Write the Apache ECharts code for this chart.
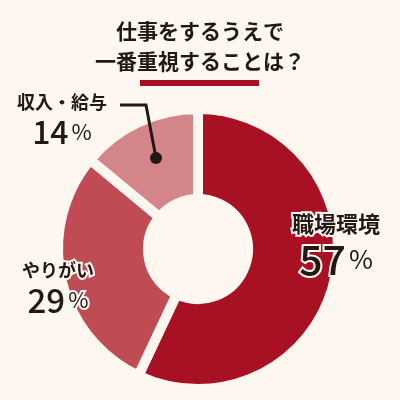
<!DOCTYPE html>
<html>
<head>
<meta charset="utf-8">
<script src="https://cdn.jsdelivr.net/npm/echarts@6/dist/echarts.min.js"></script>
<style>
  html, body { margin: 0; padding: 0; background: #fdf7ef; }
  #main { width: 400px; height: 400px; }
</style>
</head>
<body>
<div id="main"></div>
<script>
// データ
var categories = ['職場環境', 'やりがい', '収入・給与'];
var values = [57, 29, 14];
var colors = ['#a81124', '#c04b55', '#d4858a'];

var bg = '#fdf7ef';
var ink = '#231815';
var font = '"Noto Sans CJK JP", "Noto Sans", sans-serif';

// ラベルの位置（中心座標）
var labelPos = [
    { x: 336, y: 244 },
    { x: 58, y: 287 },
    { x: 62, y: 119 }
];

var myChart = echarts.init(document.getElementById('main'));

function richFor(nameSize, numSize, pctSize, nameH, numH) {
    return {
        n: { fontSize: nameSize, fontWeight: 'bold', color: ink, fontFamily: font, lineHeight: nameH },
        v: { fontSize: numSize, fontWeight: 500, color: ink, fontFamily: font, lineHeight: numH },
        p: { fontSize: pctSize, color: ink, fontFamily: font, lineHeight: numH, padding: [0, 0, 0, 3] }
    };
}

var richSets = [
    richFor(22, 41, 26, 30, 40),
    richFor(18, 33, 22, 26, 34),
    richFor(18, 32, 22, 26, 34)
];

var pieData = categories.map(function (name, i) {
    return {
        name: name,
        value: values[i],
        itemStyle: { color: colors[i] },
        label: { rich: richSets[i] }
    };
});

var option = {
    backgroundColor: bg,
    title: {
        text: '仕事をするうえで\n一番重視することは？',
        left: 'center',
        top: 11,
        textStyle: {
            fontSize: 21,
            lineHeight: 30,
            fontWeight: 'bold',
            color: ink,
            fontFamily: font
        }
    },
    graphic: [
        { type: 'rect', shape: { x: 140, y: 80, width: 119, height: 6 }, style: { fill: '#a81124' } },
        {
            type: 'polyline',
            shape: { points: [[156, 158], [146, 105], [120, 105]] },
            style: { stroke: ink, lineWidth: 3, fill: null },
            z: 100
        },
        { type: 'circle', shape: { cx: 156, cy: 158, r: 6 }, style: { fill: ink }, z: 100 }
    ],
    series: [
        {
            type: 'pie',
            center: [198, 249],
            radius: [50, 140],
            startAngle: 90,
            clockwise: true,
            silent: true,
            avoidLabelOverlap: false,
            itemStyle: { borderColor: bg, borderWidth: 10 },
            label: {
                show: true,
                position: 'inside',
                overflow: 'none',
                formatter: '{n|{b}}\n{v|{c}}{p|%}',
                align: 'center',
                textBorderColor: bg,
                textBorderWidth: 4
            },
            labelLine: { show: false },
            labelLayout: function (params) {
                var p = labelPos[params.dataIndex];
                return { x: p.x, y: p.y, align: 'center', verticalAlign: 'middle' };
            },
            data: pieData
        }
    ]
};

myChart.setOption(option);
</script>
</body>
</html>
